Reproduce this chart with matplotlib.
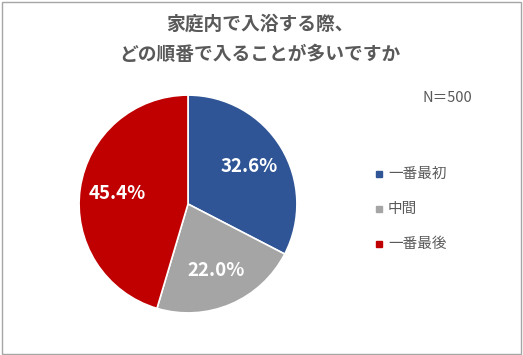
import matplotlib
matplotlib.use('Agg')
import matplotlib.pyplot as plt
from matplotlib.patches import Rectangle

plt.rcParams['font.family'] = ['Noto Sans CJK JP', 'DejaVu Sans']

TITLE = '家庭内で入浴する際、\nどの順番で入ることが多いですか'
NOTE = 'N＝500'
CATEGORIES = ['一番最初', '中間', '一番最後']
SHARES = [32.6, 22.0, 45.4]
COLORS = ['#2F5597', '#A5A5A5', '#C00000']

W, H = 523, 355
fig = plt.figure(figsize=(W / 100, H / 100), dpi=100)

# pie box: centre (188, 204) px, radius 110 px
cx, cy, r = 188, 204, 110
ax = fig.add_axes([(cx - r) / W, (H - cy - r) / H, 2 * r / W, 2 * r / H])
wedges, _, autotexts = ax.pie(
    SHARES, colors=COLORS, startangle=90, counterclock=False,
    autopct='%.1f%%', pctdistance=0.66,
    wedgeprops=dict(edgecolor='white', linewidth=1.2))
for t in autotexts:
    t.set_color('white')
    t.set_fontsize(13.5)
    t.set_fontweight('bold')
ax.set_xlim(-1.01, 1.01)
ax.set_ylim(-1.01, 1.01)
ax.set_aspect('auto')

fig.text(0.497, 1 - 39 / H, TITLE, ha='center', va='center', fontsize=13.5,
         fontweight='bold', color='#595959', linespacing=1.75)
fig.text(447 / W, 1 - 98 / H, NOTE, ha='center', va='center', fontsize=10.5,
         color='#595959')

for i, (lab, col) in enumerate(zip(CATEGORIES, COLORS)):
    y = 1 - (174 + 35 * i) / H
    fig.patches.append(Rectangle((376 / W, y - 3 / H), 6 / W, 6 / H,
                                 transform=fig.transFigure, color=col))
    fig.text(388 / W, y, lab, ha='left', va='center', fontsize=10.5,
             color='#595959')

fig.add_artist(Rectangle((1.5 / W, 1.5 / H), 1 - 3.5 / W, 1 - 3.5 / H,
                         transform=fig.transFigure, fill=False,
                         edgecolor='#A6A6A6', linewidth=1))

fig.savefig('out.png', dpi=100)
